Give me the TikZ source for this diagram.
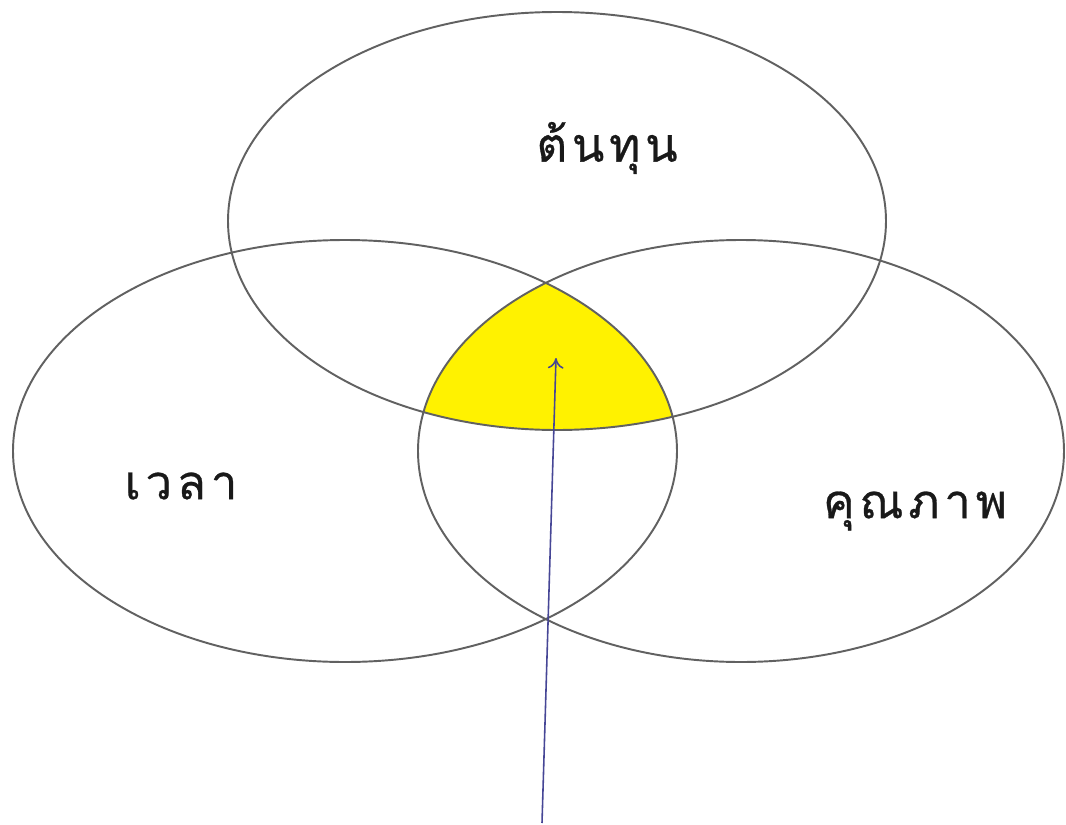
\documentclass[tikz,border=0pt]{standalone}
\usepackage{fontspec}
\newfontfamily\thaifont[Script=Thai,LetterSpace=10,FakeBold=0.6]{Loma}
\tikzset{
  venn/.style={draw=black!62, line width=1.1pt},
  lbl/.style={font=\thaifont\fontsize{27}{32}\selectfont, text=black!90, inner sep=0pt},
  pointer/.style={draw={rgb,255:red,70;green,70;blue,150}, line width=0.9pt, -{To[length=6pt,width=9pt]}}
}
\usetikzlibrary{arrows.meta}
\begin{document}
\begin{tikzpicture}[x=0.02cm,y=-0.02cm]
\useasboundingbox (0,0) rectangle (1066,825);
\fill[white] (0,0) rectangle (1066,825);
% yellow common region
\begin{scope}
  \clip (557,221) ellipse [x radius=329, y radius=209];
  \clip (345,451) ellipse [x radius=332, y radius=211];
  \fill[yellow] (741,451) ellipse [x radius=323, y radius=211];
\end{scope}
\draw[venn] (557,221) ellipse [x radius=329, y radius=209];
\draw[venn] (345,451) ellipse [x radius=332, y radius=211];
\draw[venn] (741,451) ellipse [x radius=323, y radius=211];
\node[lbl] (cost) at (607,148) {ต้นทุน};
\node[lbl] (time) at (181,486) {เวลา};
\node[lbl] (quality) at (915,511) {คุณภาพ};
\coordinate (tail) at (542,823);
\coordinate (head) at (556,358);
\draw[pointer] (tail) -- (head);
\end{tikzpicture}
\end{document}
